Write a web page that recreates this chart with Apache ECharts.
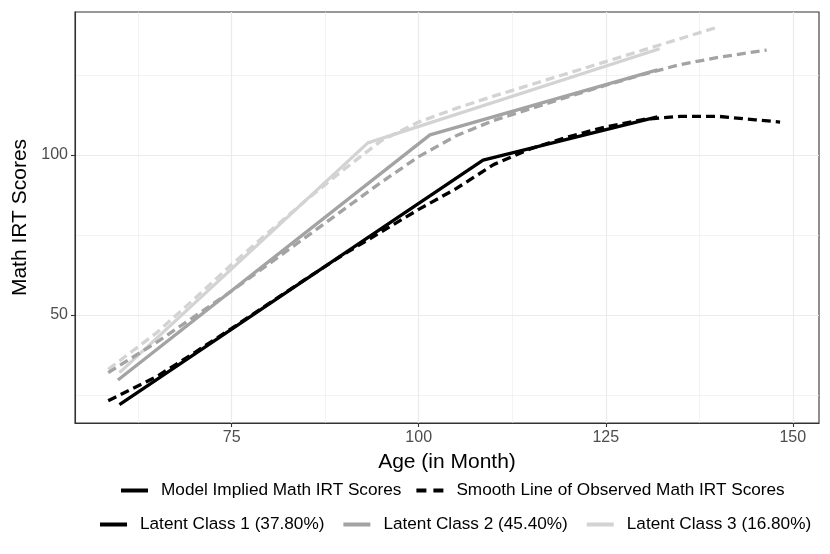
<!DOCTYPE html>
<html><head><meta charset="utf-8">
<script src="https://cdn.jsdelivr.net/npm/echarts@6/dist/echarts.min.js"></script>
<style>html,body{margin:0;padding:0;background:#fff}#c{width:830px;height:554px}</style>
</head><body><div id="c"></div>
<script>
// ---- tick values ----
const xTicks = [75, 100, 125, 150];
const xMinor = [62.5, 87.5, 112.5, 137.5];
const yTicks = [50, 100];
const yMinor = [25, 75, 125];

// ---- legend labels ----
const typeNames = ['Model Implied Math IRT Scores', 'Smooth Line of Observed Math IRT Scores'];
const classNames = ['Latent Class 1 (37.80%)', 'Latent Class 2 (45.40%)', 'Latent Class 3 (16.80%)'];

// ---- model implied trajectories ----
const class1ModelAge = [60.0, 108.6, 131.9];
const class1ModelScore = [22.0, 98.4, 111.9];
const class2ModelAge = [59.8, 101.5, 131.9];
const class2ModelScore = [29.7, 106.3, 126.6];
const class3ModelAge = [60.0, 93.2, 132.2];
const class3ModelScore = [32.0, 103.8, 133.2];

// ---- smooth lines of observed scores ----
const class1SmoothAge = [58.5, 65, 70, 75, 80, 85, 90, 95, 100, 105, 110, 115, 120, 125, 130, 135, 140, 145, 148.3];
const class1SmoothScore = [23.2, 30.8, 38.2, 45.8, 53.6, 61.4, 69.0, 76.0, 83.0, 89.5, 97.0, 102.0, 105.7, 108.8, 111.1, 112.1, 112.1, 111.0, 110.3];
const class2SmoothAge = [58.5, 65, 70, 75, 80, 85, 90, 95, 100, 105, 110, 115, 120, 125, 130, 135, 140, 146.5];
const class2SmoothScore = [32.0, 41.5, 49.5, 57.5, 66.0, 74.5, 83.0, 91.5, 99.5, 106.0, 110.8, 114.5, 118.2, 121.8, 125.2, 128.3, 130.5, 132.8];
const class3SmoothAge = [58.5, 65, 70, 75, 80, 85, 90, 95, 100, 105, 110, 115, 120, 125, 130, 135, 139.6];
const class3SmoothScore = [33.0, 44.5, 55.0, 65.8, 76.0, 86.0, 95.5, 104.5, 110.3, 114.6, 118.4, 122.0, 125.6, 129.2, 132.8, 136.4, 139.7];

const classColors = ['#000000', '#A3A3A3', '#D3D3D3'];
const FONT = 'Liberation Sans, Arial, Helvetica, sans-serif';

function pairs(a, b) { return a.map((v, i) => [v, b[i]]); }

const modelData = [
  pairs(class1ModelAge, class1ModelScore),
  pairs(class2ModelAge, class2ModelScore),
  pairs(class3ModelAge, class3ModelScore)
];
const smoothData = [
  pairs(class1SmoothAge, class1SmoothScore),
  pairs(class2SmoothAge, class2SmoothScore),
  pairs(class3SmoothAge, class3SmoothScore)
];

const series = [];
// grid lines through markLine
series.push({
  name: 'grid', type: 'line', data: [], silent: true, z: 0,
  markLine: {
    silent: true, symbol: 'none', label: { show: false }, z: 0, animation: false,
    data: [
      ...xMinor.map(v => ({ xAxis: v, lineStyle: { color: '#EBEBEB', width: 0.6, type: 'solid' } })),
      ...yMinor.map(v => ({ yAxis: v, lineStyle: { color: '#EBEBEB', width: 0.6, type: 'solid' } })),
      ...xTicks.map(v => ({ xAxis: v, lineStyle: { color: '#EBEBEB', width: 1.2, type: 'solid' } })),
      ...yTicks.map(v => ({ yAxis: v, lineStyle: { color: '#EBEBEB', width: 1.2, type: 'solid' } }))
    ]
  }
});
for (let k = 2; k >= 0; k--) {
  series.push({
    name: 'smooth' + k, type: 'line', data: smoothData[k], showSymbol: false, z: 3,
    lineStyle: { color: classColors[k], width: 3.3, type: [9, 5] }, itemStyle: { color: classColors[k] }
  });
  series.push({
    name: 'model' + k, type: 'line', data: modelData[k], showSymbol: false, z: 3,
    lineStyle: { color: classColors[k], width: 3.3, type: 'solid' }, itemStyle: { color: classColors[k] }
  });
}
// legend-only series
series.push({ name: typeNames[0], type: 'line', data: [], itemStyle: { color: '#000' }, lineStyle: { color: '#000' } });
series.push({ name: typeNames[1], type: 'line', data: [], itemStyle: { color: '#000' }, lineStyle: { color: '#000' } });
classNames.forEach((n, k) => series.push({ name: n, type: 'line', data: [], itemStyle: { color: classColors[k] }, lineStyle: { color: classColors[k] } }));

const solidIcon = 'path://M0,0H27V4H0Z';
const dashIcon = 'path://M0,0H10V4H0Z M17,0H27V4H17Z';

const legendCommon = {
  orient: 'horizontal', padding: 0, itemWidth: 27, itemHeight: 4, selectedMode: false,
  itemStyle: { borderWidth: 0 },
  textStyle: { fontSize: 17.2, color: '#000', fontFamily: FONT, padding: [0, 0, 0, 8] }
};

const option = {
  animation: false,
  backgroundColor: '#ffffff',
  grid: { left: 75, right: 11, top: 12, bottom: 131, show: true, borderColor: '#333333', borderWidth: 1.1, backgroundColor: 'transparent' },
  xAxis: {
    type: 'value', min: 54.06, max: 153.5,
    splitLine: { show: false },
    axisLine: { show: true, lineStyle: { color: '#333333', width: 1.1 } },
    axisTick: { show: true, length: 4, lineStyle: { color: '#333333', width: 1.1 }, customValues: xTicks },
    axisLabel: { customValues: xTicks, fontSize: 16, color: '#4D4D4D', margin: 7, fontFamily: FONT },
    name: 'Age (in Month)', nameLocation: 'middle', nameGap: 29,
    nameTextStyle: { fontSize: 21, color: '#000', fontFamily: FONT }
  },
  yAxis: {
    type: 'value', min: 16.25, max: 144.7,
    splitLine: { show: false },
    axisLine: { show: true, lineStyle: { color: '#333333', width: 1.1 } },
    axisTick: { show: true, length: 4, lineStyle: { color: '#333333', width: 1.1 }, customValues: yTicks },
    axisLabel: { customValues: yTicks, fontSize: 16, color: '#4D4D4D', margin: 7, fontFamily: FONT },
    name: 'Math IRT Scores', nameLocation: 'middle', nameGap: 40, nameRotate: 90,
    nameTextStyle: { fontSize: 21, color: '#000', fontFamily: FONT }
  },
  legend: [
    Object.assign({}, legendCommon, {
      left: 121, top: 482, itemGap: 15,
      data: [{ name: typeNames[0], icon: solidIcon }, { name: typeNames[1], icon: dashIcon }]
    }),
    Object.assign({}, legendCommon, {
      left: 100, top: 516, itemGap: 19,
      data: classNames.map(n => ({ name: n, icon: solidIcon }))
    })
  ],
  series: series
};

const chart = echarts.init(document.getElementById('c'), null, { renderer: 'canvas' });
chart.setOption(option);
</script>
</body></html>
